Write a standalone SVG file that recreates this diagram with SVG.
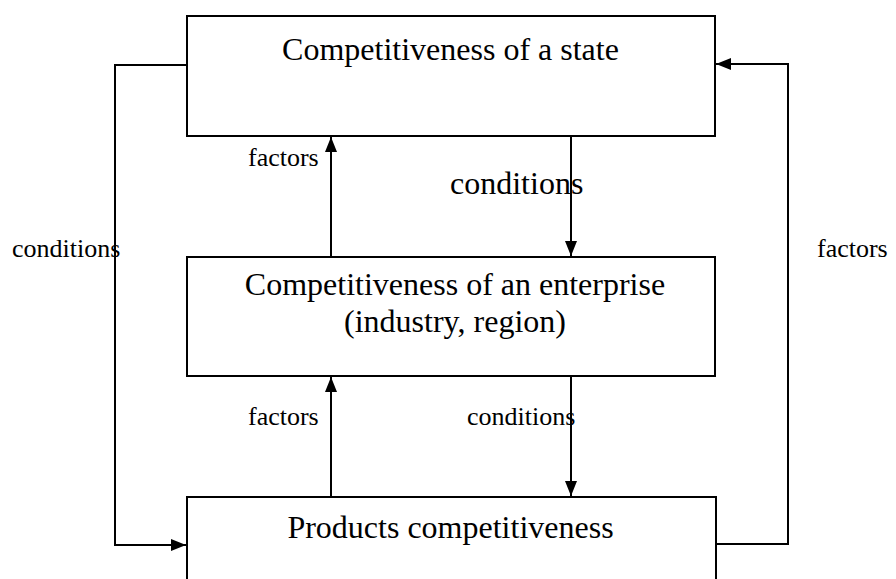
<svg xmlns="http://www.w3.org/2000/svg" width="896" height="579" viewBox="0 0 896 579">
<style>
.box{fill:#fff;stroke:#000;stroke-width:2}
.ln{fill:none;stroke:#000;stroke-width:2}
.big{font-family:"Liberation Serif","Times New Roman",serif;font-size:32px;fill:#000}
.sm{font-family:"Liberation Serif","Times New Roman",serif;font-size:26px;fill:#000}
</style>
<defs>
<marker id="ah" viewBox="0 0 15 12" refX="15" refY="6" markerWidth="15" markerHeight="12" markerUnits="userSpaceOnUse" orient="auto">
<path d="M0,0 L15,6 L0,12 Z" fill="#000"/>
</marker>
</defs>
<rect width="896" height="579" fill="#fff"/>
<g id="state">
<rect class="box" x="187" y="16" width="528" height="120"/>
<text class="big" x="450.5" y="60" text-anchor="middle">Competitiveness of a state</text>
</g>
<g id="enterprise">
<rect class="box" x="187" y="257" width="528" height="119"/>
<text class="big" x="455" y="295" text-anchor="middle">Competitiveness of an enterprise</text>
<text class="big" x="455" y="332" text-anchor="middle">(industry, region)</text>
</g>
<g id="products">
<rect class="box" x="187" y="497" width="529" height="100"/>
<text class="big" x="450.5" y="538" text-anchor="middle">Products competitiveness</text>
</g>
<g id="labels">
<text class="sm" x="248" y="166">factors</text>
<text class="big" x="450" y="194">conditions</text>
<text class="sm" x="12" y="257">conditions</text>
<text class="sm" x="817" y="257">factors</text>
<text class="sm" x="248" y="425">factors</text>
<text class="sm" x="467" y="425">conditions</text>
</g>
<g id="connectors">
<polyline class="ln" points="187,65 115,65 115,545 186,545" marker-end="url(#ah)"/>
<polyline class="ln" points="716,544 788,544 788,64 716,64" marker-end="url(#ah)"/>
<line class="ln" x1="331" y1="257" x2="331" y2="137" marker-end="url(#ah)"/>
<line class="ln" x1="571" y1="136" x2="571" y2="256" marker-end="url(#ah)"/>
<line class="ln" x1="331" y1="497" x2="331" y2="377" marker-end="url(#ah)"/>
<line class="ln" x1="571" y1="376" x2="571" y2="496" marker-end="url(#ah)"/>
</g>
</svg>
